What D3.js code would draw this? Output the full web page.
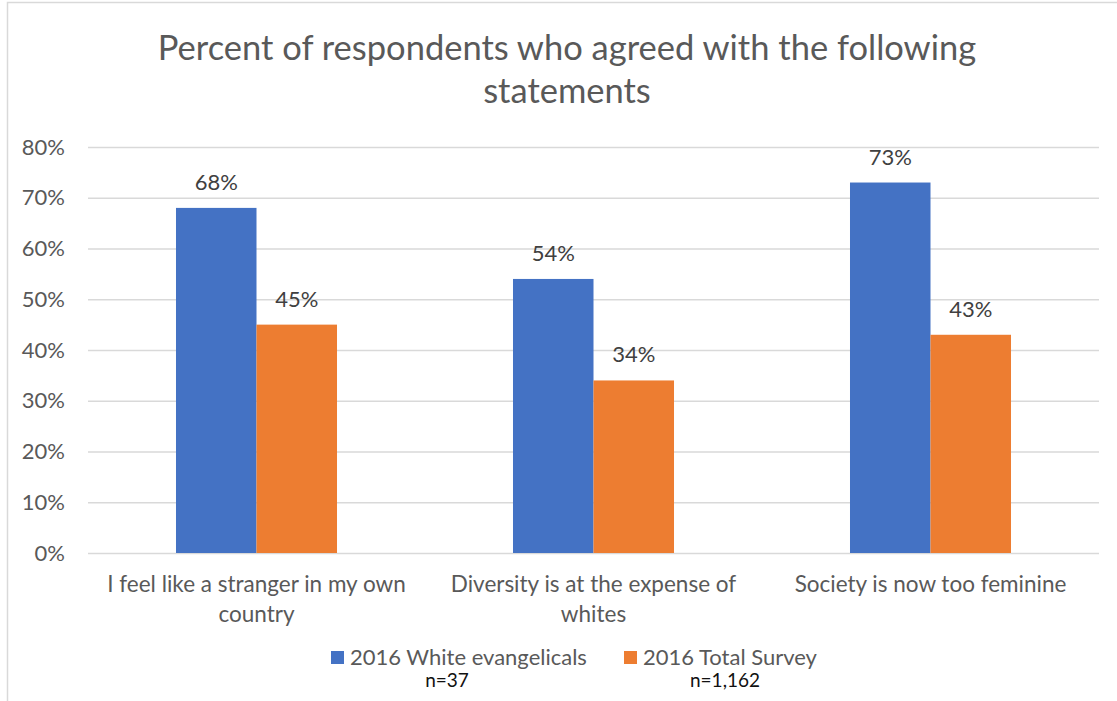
<!DOCTYPE html>
<html>
<head>
<meta charset="utf-8">
<script src="https://cdn.jsdelivr.net/npm/d3@7"></script>
<style>
  html, body { margin: 0; padding: 0; background: #fff; }
  svg { display: block; font-family: Lato, "Open Sans", sans-serif; }
</style>
</head>
<body>
<svg id="chart" width="1117" height="701"></svg>
<script>
// Survey statements (line breaks where the axis label wraps)
const categories = [
  "I feel like a stranger in my own\ncountry",
  "Diversity is at the expense of\nwhites",
  "Society is now too feminine"
];
const seriesNames = ["2016 White evangelicals", "2016 Total Survey"];
const sampleSizes = ["n=37", "n=1,162"];
const whiteEvangelicals = [0.68, 0.54, 0.73];
const totalSurvey = [0.45, 0.34, 0.43];
const yTicks = [0, 0.1, 0.2, 0.3, 0.4, 0.5, 0.6, 0.7, 0.8];
const titleLines = ["Percent of respondents who agreed with the following", "statements"];

const colors = ["#4472C4", "#ED7D31"];
const values = [whiteEvangelicals, totalSurvey];

const svg = d3.select("#chart");

// chart frame
svg.append("rect")
  .attr("x", 7.5).attr("y", 2.5)
  .attr("width", 1300).attr("height", 900)
  .attr("fill", "#fff")
  .attr("stroke", "#d9d9d9").attr("stroke-width", 1.5);

const plot = { left: 88, right: 1099, top: 147, bottom: 553 };

const y = d3.scaleLinear().domain([0, 0.8]).range([plot.bottom, plot.top]);
const x0 = d3.scaleBand().domain(categories).range([plot.left, plot.right]).padding(0);
const x1 = d3.scaleBand().domain(seriesNames).range([0, x0.bandwidth()])
  .paddingInner(0).paddingOuter(1.093);

// title
svg.append("text")
  .attr("x", 567).attr("y", 60)
  .attr("text-anchor", "middle")
  .attr("fill", "#595959")
  .style("font-size", "34.5px")
  .selectAll("tspan").data(titleLines).join("tspan")
  .attr("x", 567)
  .attr("dy", (d, i) => i === 0 ? 0 : 43)
  .text(d => d);

// gridlines + y tick labels
const yAxis = d3.axisLeft(y)
  .tickValues(yTicks)
  .tickFormat(d3.format(".0%"))
  .tickSize(-(plot.right - plot.left))
  .tickPadding(23);

const gy = svg.append("g")
  .attr("transform", `translate(${plot.left},0)`)
  .call(yAxis);
gy.select(".domain").remove();
gy.selectAll(".tick line").attr("stroke", "#d9d9d9").attr("stroke-width", 1.5);
gy.selectAll(".tick text")
  .attr("fill", "#595959")
  .style("font-size", "22px")
  .style("font-family", "Lato, 'Open Sans', sans-serif");

// bars
const groups = svg.append("g").selectAll("g")
  .data(categories)
  .join("g")
  .attr("transform", d => `translate(${x0(d)},0)`);

groups.selectAll("rect")
  .data((d, ci) => seriesNames.map((s, si) => ({ s, si, v: values[si][ci] })))
  .join("rect")
  .attr("x", d => x1(d.s))
  .attr("y", d => y(d.v))
  .attr("width", x1.bandwidth())
  .attr("height", d => y(0) - y(d.v))
  .attr("fill", d => colors[d.si]);

// value labels
groups.selectAll("text.val")
  .data((d, ci) => seriesNames.map((s, si) => ({ s, si, v: values[si][ci] })))
  .join("text")
  .attr("class", "val")
  .attr("x", d => x1(d.s) + x1.bandwidth() / 2)
  .attr("y", d => y(d.v) - 18)
  .attr("text-anchor", "middle")
  .attr("fill", "#404040")
  .style("font-size", "22px")
  .text(d => d3.format(".0%")(d.v));

// category labels
svg.append("g").selectAll("text")
  .data(categories)
  .join("text")
  .attr("text-anchor", "middle")
  .attr("fill", "#595959")
  .style("font-size", "22.5px")
  .each(function (d) {
    const cx = x0(d) + x0.bandwidth() / 2;
    d3.select(this).selectAll("tspan")
      .data(d.split("\n"))
      .join("tspan")
      .attr("x", cx)
      .attr("y", (t, i) => 592 + i * 30)
      .text(t => t);
  });

// legend
const legendSquares = [331, 624];
const legend = svg.append("g");
seriesNames.forEach((name, i) => {
  legend.append("rect")
    .attr("x", legendSquares[i]).attr("y", 651)
    .attr("width", 13).attr("height", 13)
    .attr("fill", colors[i]);
  legend.append("text")
    .attr("x", legendSquares[i] + 19).attr("y", 665)
    .attr("fill", "#595959")
    .style("font-size", "22px")
    .text(name);
});

// sample size notes
const nCenters = [447, 725];
svg.append("g").selectAll("text")
  .data(sampleSizes)
  .join("text")
  .attr("x", (d, i) => nCenters[i])
  .attr("y", 687)
  .attr("text-anchor", "middle")
  .attr("fill", "#111")
  .style("font-size", "19px")
  .text(d => d);
</script>
</body>
</html>
